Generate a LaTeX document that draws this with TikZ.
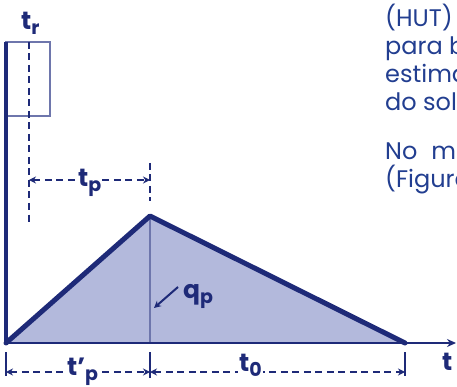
\documentclass[tikz,border=0pt]{standalone}
\usepackage{fontspec}
\setmainfont{Poppins}
\usetikzlibrary{arrows.meta}
\definecolor{navy}{HTML}{1E2A78}
\definecolor{fillb}{HTML}{B3B9DC}
\definecolor{thinb}{HTML}{6E76AC}
\definecolor{txtb}{HTML}{223E90}
\newcommand\lbl[2]{#1\raisebox{-5pt}{\fontsize{19}{19}\selectfont #2}}
\begin{document}
\begin{tikzpicture}[x=1pt,y=-1pt,
  lab/.style={font=\fontsize{25}{27}\selectfont\bfseries, text=navy, inner sep=1pt},
  dimline/.style={navy, line width=2pt, dash pattern=on 7pt off 4.5pt},
  tickline/.style={navy, line width=1.8pt},
  body/.style={font=\fontsize{24}{28}\selectfont, text=txtb, anchor=base west, inner sep=0pt}]
\useasboundingbox (0,0) rectangle (457,387);
\clip (0,0) rectangle (457,387);
% coordinates
\coordinate (O) at (6,343);
\coordinate (P) at (150,216);
\coordinate (E) at (405,343);
\coordinate (Pb) at (150,343);
\coordinate (Xend) at (456,343);
\coordinate (Ytop) at (6,42);
% rainfall rectangle
\draw[thinb, line width=2.4pt] (6,42) rectangle (50,116);
% triangle fill
\fill[fillb] (O) -- (P) -- (E) -- cycle;
\draw[thinb, line width=2pt] (P) -- (Pb);
% axes
\draw[navy, line width=3.2pt] (Ytop) -- (O);
\draw[navy, line width=2.6pt, -{Stealth[length=9pt,width=8pt]}] (O) -- (Xend);
% hydrograph
\draw[navy, line width=5pt, line join=round, line cap=round] (O) -- (P) -- (E);
% tr dashed line
\coordinate (TrTop) at (29,42);
\coordinate (TrBot) at (29,224);
\draw[dimline] (TrTop) -- (TrBot);
\node[lab, anchor=base west] (tr) at (20,30) {\lbl{t}{r}};
% tp dimension
\coordinate (TpA) at (29,180);
\coordinate (TpB) at (150,180);
\coordinate (TpT1) at (150,163);
\coordinate (TpT2) at (150,201);
\draw[dimline] (TpT1) -- (TpT2);
\draw[dimline, {Stealth[length=7pt,width=7pt]}-{Stealth[length=7pt,width=7pt]}] (TpA) -- (TpB);
\node[lab, fill=white, anchor=base west] (tp) at (77,187) {\lbl{t}{p}};
% qp
\coordinate (QA) at (178,287);
\coordinate (QB) at (154,308);
\draw[navy, line width=2pt, -{Stealth[length=7pt,width=7pt]}] (QA) -- (QB);
\node[lab, anchor=base west] (qp) at (182,298) {\lbl{q}{p}};
% bottom dimensions
\coordinate (B0a) at (6,352);
\coordinate (B0b) at (6,376);
\coordinate (B1a) at (150,352);
\coordinate (B1b) at (150,378);
\coordinate (B2a) at (405,352);
\coordinate (B2b) at (405,376);
\draw[tickline] (B0a) -- (B0b);
\draw[tickline] (B1a) -- (B1b);
\draw[tickline] (B2a) -- (B2b);
\coordinate (D0) at (6,372);
\coordinate (D1) at (150,372);
\coordinate (D2) at (405,372);
\draw[dimline, {Stealth[length=7pt,width=7pt]}-{Stealth[length=7pt,width=7pt]}] (D0) -- (D1);
\draw[dimline, {Stealth[length=7pt,width=7pt]}-{Stealth[length=7pt,width=7pt]}] (D1) -- (D2);
\node[lab, fill=white, anchor=base west] (tpp) at (66,375) {\lbl{t'}{p}};
\node[lab, fill=white, anchor=base west] (t0) at (238,371) {\lbl{t}{0}};
\node[lab, anchor=base west] (t) at (441,370) {t};
% clipped body text
\node[body] (l1) at (385,27) {(HUT)};
\node[body] (l2) at (385,55) {para ba};
\node[body] (l3) at (385,83) {estimati};
\node[body] (l4) at (385,111) {do solo};
\node[body] (l5) at (385,160) {No\hspace{14pt}me};
\node[body] (l6) at (385,188) {(Figura};
\end{tikzpicture}
\end{document}
